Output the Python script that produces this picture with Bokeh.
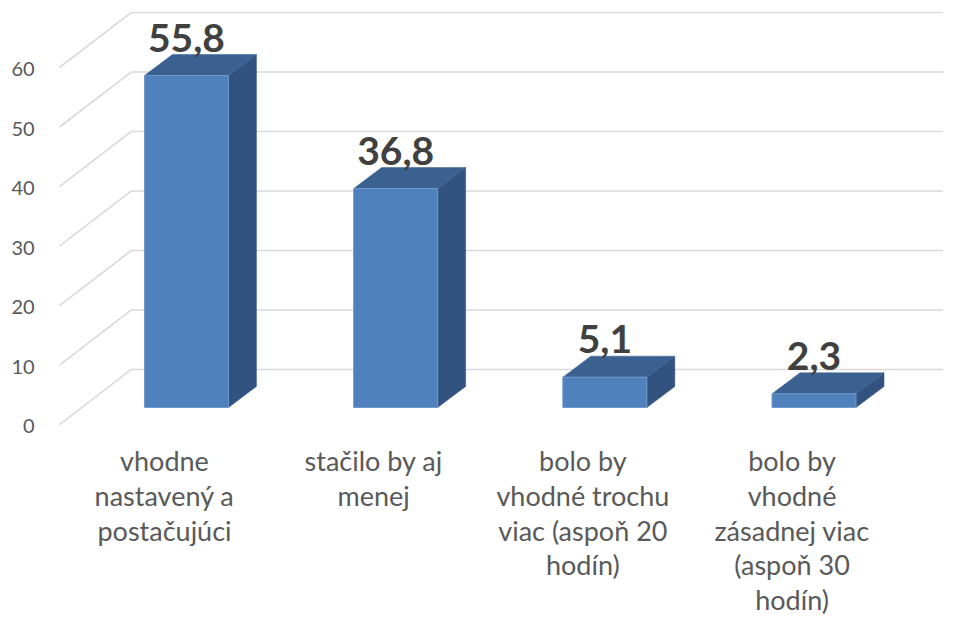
from bokeh.plotting import figure
from bokeh.models import Range1d
from bokeh.core.properties import value
from bokeh.embed import file_html
from bokeh.resources import INLINE

# ---- data ----
categories = [
    "vhodne\nnastavený a\npostačujúci",
    "stačilo by aj\nmenej",
    "bolo by\nvhodné trochu\nviac (aspoň 20\nhodín)",
    "bolo by\nvhodné\nzásadnej viac\n(aspoň 30\nhodín)",
]
values = [55.8, 36.8, 5.1, 2.3]
value_labels = ["55,8", "36,8", "5,1", "2,3"]
y_ticks = [0, 10, 20, 30, 40, 50, 60]

# ---- layout constants (data units) ----
W, H = 943, 617
X0, X1 = -0.889, 3.619
Y0, Y1 = -35.29, 68.40
bar_w = 0.4015          # front width, category units
dx, dy = 0.1338, 3.53   # depth offset of the bars
wall_back_dy = 6.39     # back wall offset above baseline
wall_front_dy = -2.86   # front (left) ends of gridlines
x_wall_front = -0.607
x_wall_back = -0.263

p = figure(width=W, height=H, output_backend="svg", toolbar_location=None,
           x_range=Range1d(X0, X1), y_range=Range1d(Y0, Y1),
           min_border=0, min_border_left=0, min_border_right=0,
           min_border_top=0, min_border_bottom=0)
p.axis.visible = False
p.grid.visible = False
p.outline_line_color = None
p.background_fill_color = "white"
p.border_fill_color = "white"

# gridlines: slant on side wall + horizontal along back wall
gx, gy = [], []
for t in y_ticks:
    gx.append([x_wall_front, x_wall_back, X1])
    gy.append([t + wall_front_dy, t + wall_back_dy, t + wall_back_dy])
p.multi_line(gx, gy, line_color="#D9D9D9", line_width=1.6)

# y tick labels
p.text(x=[-0.726] * len(y_ticks), y=[t + wall_front_dy - 0.3 for t in y_ticks],
       text=[str(t) for t in y_ticks], text_align="right", text_baseline="middle",
       text_font=value("Lato"), text_font_size="20px", text_color="#595959")

# bars
xs_front, ys_front, xs_top, ys_top, xs_side, ys_side = [], [], [], [], [], []
for i, v in enumerate(values):
    l, r = i - bar_w / 2, i + bar_w / 2
    xs_front.append([l, r, r, l]); ys_front.append([0, 0, v, v])
    xs_top.append([l, r, r + dx, l + dx]); ys_top.append([v, v, v + dy, v + dy])
    xs_side.append([r, r + dx, r + dx, r]); ys_side.append([0, dy, v + dy, v])
p.patches(xs_side, ys_side, fill_color="#325380", line_color="#325380", line_width=0.5)
p.patches(xs_top, ys_top, fill_color="#3B6190", line_color="#3B6190", line_width=0.5)
p.patches(xs_front, ys_front, fill_color="#4F81BD", line_color="#7398CB", line_width=1)

# data labels
p.text(x=list(range(len(values))), y=[v + dy + 2.85 for v in values], text=value_labels,
       text_align="center", text_baseline="alphabetic",
       text_font=value("Lato"), text_font_style="bold", text_font_size="39px",
       text_color="#404040")

# category labels
p.text(x=[i - 0.105 for i in range(len(categories))], y=[-6.2] * len(categories),
       text=categories, text_align="center", text_baseline="top",
       text_font=value("Lato"), text_font_size="27px", text_color="#595959",
       text_line_height=1.05)

open("out.html", "w").write(file_html(p, INLINE))
